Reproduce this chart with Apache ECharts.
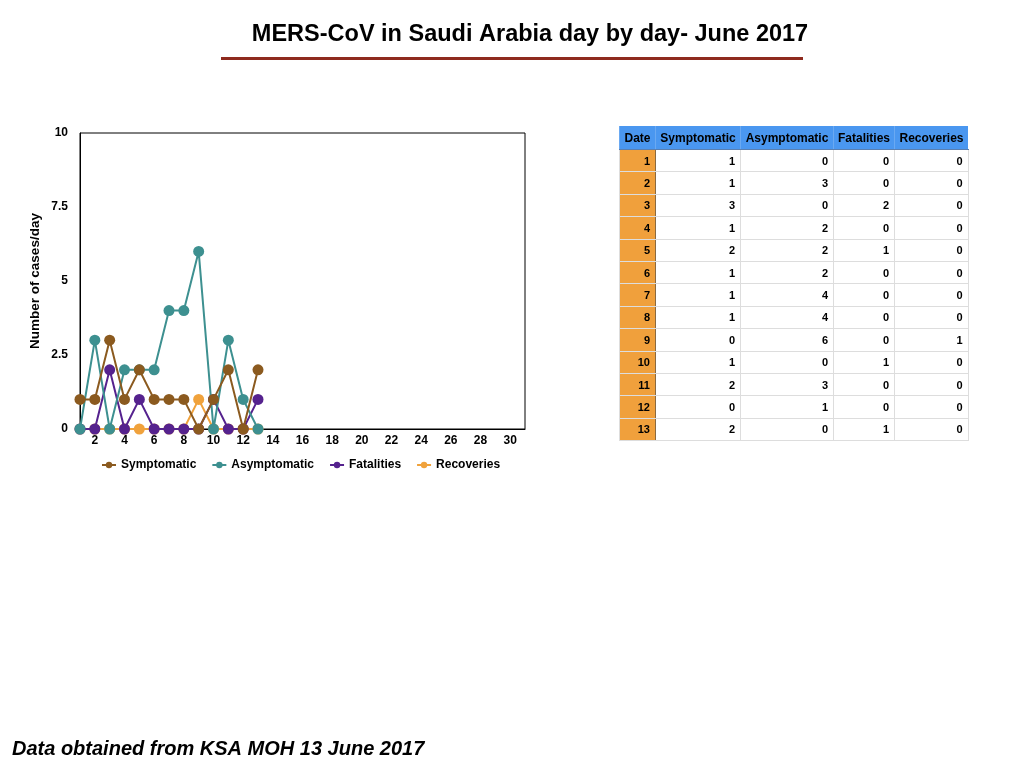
<!DOCTYPE html>
<html>
<head>
<meta charset="utf-8">
<script src="https://cdn.jsdelivr.net/npm/echarts@6/dist/echarts.min.js"></script>
<style>
  body { margin: 0; background: #fff; font-family: "Liberation Sans", Arial, sans-serif; }
  #chart { position: absolute; left: 0; top: 0; width: 1024px; height: 768px; }
  #tbl { position: absolute; left: 619px; top: 126px; width: 344px; table-layout: fixed; border-collapse: collapse; font-size: 11px; font-weight: bold; }
  #tbl th { background: #4a97f0; color: #000; font-size: 12px; height: 23px; padding: 0; text-align: center; border-left: 1px solid #6aa9f2; border-bottom: 1px solid #5a7fb0; white-space: nowrap; }
  #tbl tr.r { height: 22.4px; }
  #tbl td { border: 1px solid #ddd; text-align: right; padding: 0 5px; }
  #tbl td.d { background: #f0a03c; border-right: 1px solid #8a6a40; border-top: 1px solid #f5c080; }
</style>
</head>
<body>
<div id="chart"></div>
<table id="tbl"></table>
<script>
// day of month on the x axis
var days = [];
for (var d = 1; d <= 31; d++) days.push(String(d));

var reportDays = [1, 2, 3, 4, 5, 6, 7, 8, 9, 10, 11, 12, 13];
var symptomatic  = [1, 1, 3, 1, 2, 1, 1, 1, 0, 1, 2, 0, 2];
var asymptomatic = [0, 3, 0, 2, 2, 2, 4, 4, 6, 0, 3, 1, 0];
var fatalities   = [0, 0, 2, 0, 1, 0, 0, 0, 0, 1, 0, 0, 1];
var recoveries   = [0, 0, 0, 0, 0, 0, 0, 0, 1, 0, 0, 0, 0];
var yTicks = ['0', '2.5', '5', '7.5', '10'];

// table
var tbl = document.getElementById('tbl');
var head = '<tr><th style="width:35px">Date</th><th style="width:84px">Symptomatic</th><th style="width:92px">Asymptomatic</th><th style="width:60px">Fatalities</th><th style="width:73px">Recoveries</th></tr>';
var rows = '';
for (var i = 0; i < reportDays.length; i++) {
  rows += '<tr class="r"><td class="d">' + reportDays[i] + '</td><td>' + symptomatic[i] + '</td><td>' + asymptomatic[i] +
    '</td><td>' + fatalities[i] + '</td><td>' + recoveries[i] + '</td></tr>';
}
tbl.innerHTML = head + rows;

var chart = echarts.init(document.getElementById('chart'));
var font = 'Liberation Sans';

function line(name, data, color, z) {
  return {
    name: name,
    type: 'line',
    data: data,
    z: z,
    symbol: 'circle',
    symbolSize: 11,
    showSymbol: true,
    showAllSymbol: true,
    lineStyle: { color: color, width: 2 },
    itemStyle: { color: color },
    animation: false
  };
}

var option = {
  title: {
    text: 'MERS-CoV in Saudi Arabia day by day- June 2017',
    left: 525, textAlign: 'center', top: 18,
    textStyle: { fontFamily: font, fontSize: 23.5, fontWeight: 'bold', color: '#000' }
  },
  graphic: [
    { type: 'rect', shape: { x: 221, y: 57, width: 582, height: 3 }, style: { fill: '#8e2a1e' } },
    { type: 'text', left: 12, top: 739,
      style: { text: 'Data obtained from KSA MOH 13 June 2017', fontFamily: font, fontSize: 20,
               fontWeight: 'bold', fontStyle: 'italic', fill: '#000' } }
  ],
  legend: {
    data: ['Symptomatic', 'Asymptomatic', 'Fatalities', 'Recoveries'],
    left: 96, top: 454, itemWidth: 14, itemHeight: 8, itemGap: 15,
    textStyle: { fontFamily: font, fontSize: 12, fontWeight: 'bold', color: '#000' }
  },
  grid: { left: 80, top: 133, width: 445, height: 296, show: true, borderColor: '#000', borderWidth: 1 },
  xAxis: {
    type: 'category', data: days, boundaryGap: false,
    axisLine: { lineStyle: { color: '#000' } },
    axisTick: { show: false },
    axisLabel: {
      interval: function (idx) { return (idx + 1) % 2 === 0; },
      fontFamily: font, fontSize: 12, fontWeight: 'bold', color: '#000', margin: 6
    }
  },
  yAxis: {
    type: 'value', min: 0, max: 10, interval: 2.5,
    name: 'Number of cases/day', nameLocation: 'middle', nameGap: 38,
    nameTextStyle: { fontFamily: font, fontSize: 13.5, fontWeight: 'bold', color: '#000' },
    axisLine: { show: true, lineStyle: { color: '#000' } },
    axisTick: { show: false },
    splitLine: { show: false },
    axisLabel: {
      formatter: function (v) { var s = String(v); return yTicks.indexOf(s) >= 0 ? s : ''; },
      fontFamily: font, fontSize: 12, fontWeight: 'bold', color: '#000', margin: 12
    }
  },
  series: [
    line('Symptomatic', symptomatic, '#8b5a1f', 5),
    line('Asymptomatic', asymptomatic, '#3d9090', 4),
    line('Fatalities', fatalities, '#55228e', 3),
    line('Recoveries', recoveries, '#f0a23c', 2)
  ]
};
chart.setOption(option);
</script>
</body>
</html>
